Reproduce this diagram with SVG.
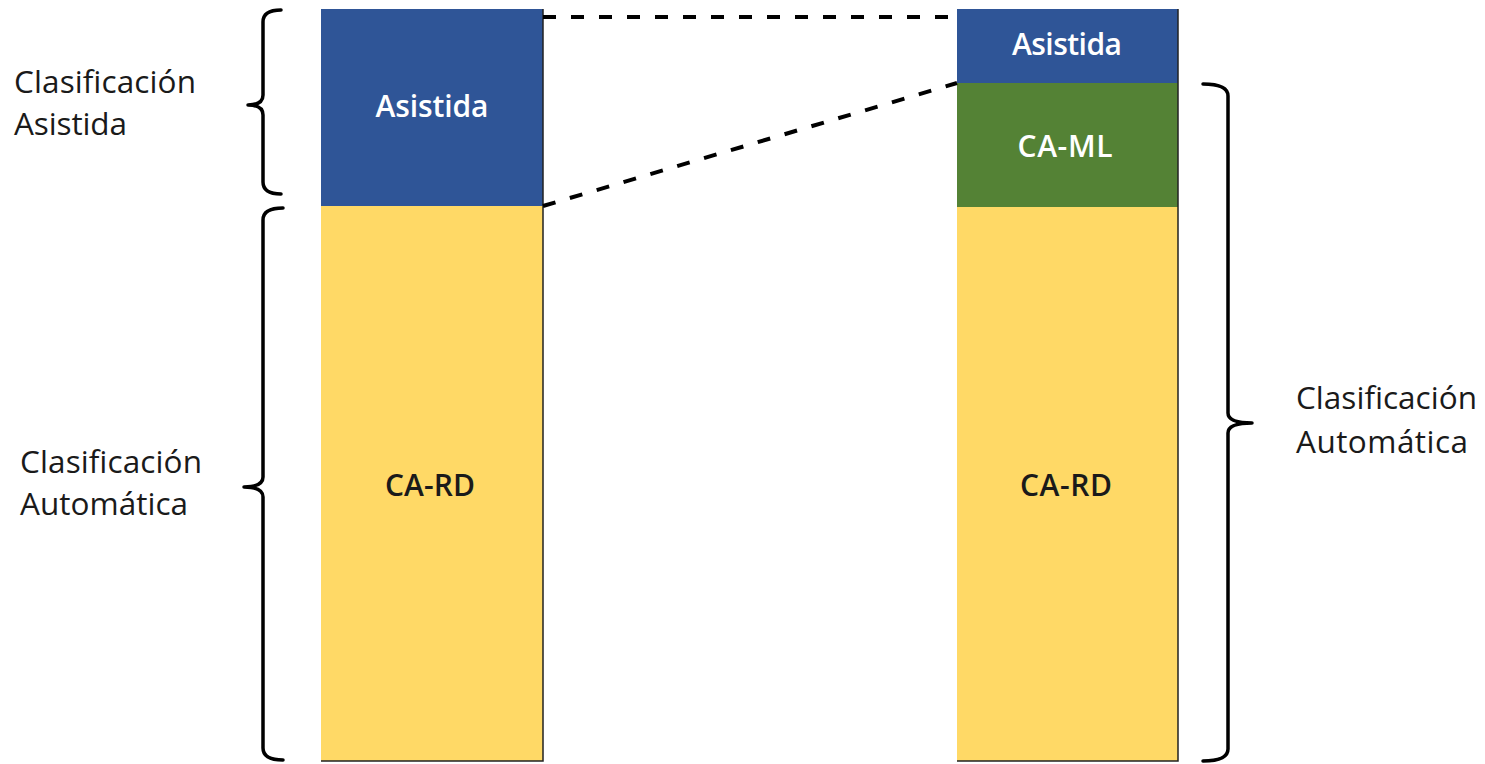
<svg xmlns="http://www.w3.org/2000/svg" width="1485" height="764" viewBox="0 0 1485 764">
<style>
.lbl{font-family:"Open Sans","Liberation Sans",sans-serif;font-size:31.5px;fill:#1a1a1a}
.in{font-family:"Open Sans","Liberation Sans",sans-serif;font-size:30px;font-weight:600;text-anchor:middle}
.w{fill:#ffffff}
.k{fill:#1a1a1a}
.brace{fill:none;stroke:#000;stroke-width:3.5;stroke-linecap:round;stroke-linejoin:round}
.dash{fill:none;stroke:#000;stroke-width:4;stroke-dasharray:13 15}
.edge{fill:none;stroke:#222;stroke-width:1.5}
</style>
<rect width="1485" height="764" fill="#ffffff"/>
<g id="left-bar">
  <rect x="321" y="9" width="222" height="197" fill="#2F5597"/>
  <rect x="321" y="206" width="222" height="555" fill="#FFD966"/>
  <path class="edge" d="M543 9 V761 H321"/>
  <text class="in w" x="432" y="117" textLength="113">Asistida</text>
  <text class="in k" x="430" y="496" textLength="90">CA-RD</text>
</g>
<g id="right-bar">
  <rect x="957" y="9" width="221" height="74" fill="#2F5597"/>
  <rect x="957" y="83" width="221" height="124" fill="#548235"/>
  <rect x="957" y="207" width="221" height="554" fill="#FFD966"/>
  <path class="edge" d="M1178 9 V761 H957"/>
  <text class="in w" x="1067" y="55" textLength="110">Asistida</text>
  <text class="in w" x="1065" y="157" textLength="95">CA-ML</text>
  <text class="in k" x="1066" y="496" textLength="92">CA-RD</text>
</g>
<g id="connectors">
  <path class="dash" d="M543 17 H957"/>
  <path class="dash" d="M543 206 L957 83"/>
</g>
<g id="brace-asistida">
  <path class="brace" d="M281 10 Q263 10 263 22 V95 Q263 105 248 105 Q263 105 263 115 V182 Q263 194 281 194"/>
  <text class="lbl" x="14" y="93" textLength="182">Clasificación</text>
  <text class="lbl" x="14" y="135" textLength="113">Asistida</text>
</g>
<g id="brace-automatica-left">
  <path class="brace" d="M283 208 Q263 208 263 220 V477 Q263 487 244 487 Q263 487 263 497 V748 Q263 760 283 760"/>
  <text class="lbl" x="20" y="473" textLength="182">Clasificación</text>
  <text class="lbl" x="20" y="515" textLength="168">Automática</text>
</g>
<g id="brace-automatica-right">
  <path class="brace" d="M1203 84 Q1228 84 1228 96 V413 Q1228 423 1252 423 Q1228 423 1228 433 V749 Q1228 761 1203 761"/>
  <text class="lbl" x="1296" y="409" textLength="181">Clasificación</text>
  <text class="lbl" x="1296" y="453" textLength="172">Automática</text>
</g>
</svg>
